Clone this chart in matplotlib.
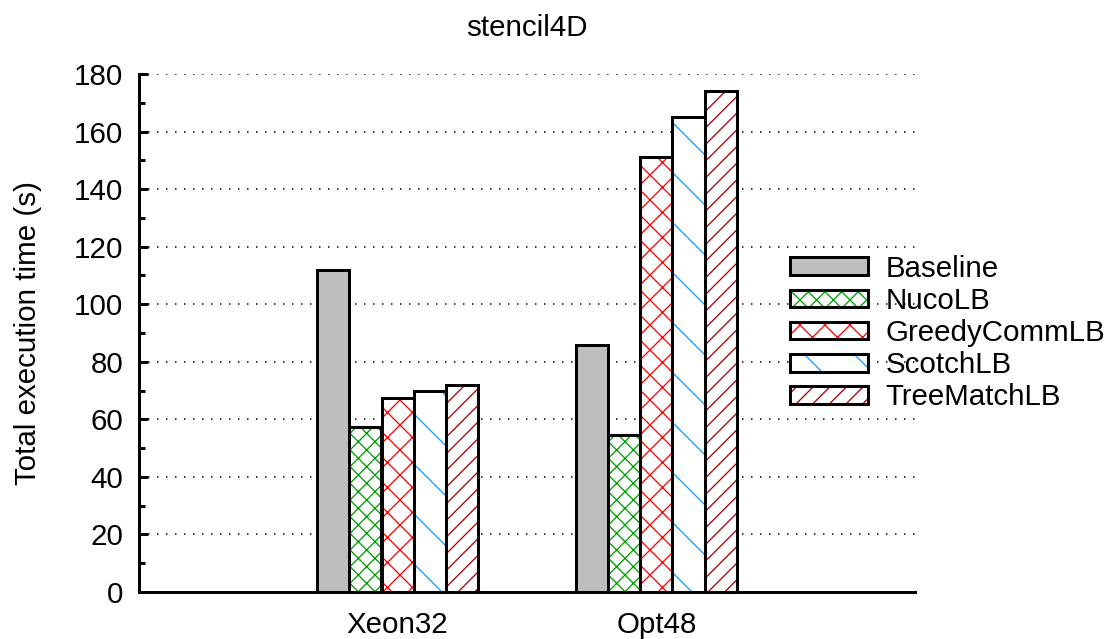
import matplotlib
matplotlib.use('Agg')
import matplotlib.pyplot as plt
from matplotlib.legend_handler import HandlerTuple
import numpy as np

# execution times (s) per machine and load balancer
machines = ['Xeon32', 'Opt48']
strategies = ['Baseline', 'NucoLB', 'GreedyCommLB', 'ScotchLB', 'TreeMatchLB']
baseline = [112.0, 86.0]
nucolb = [57.5, 54.5]
greedycommlb = [67.5, 151.0]
scotchlb = [69.8, 165.0]
treematchlb = [71.8, 174.2]
series = [baseline, nucolb, greedycommlb, scotchlb, treematchlb]

# hatch style per strategy: (face, hatch, hatch colour)
styles = [('#bebebe', '', 'black'),
          ('white', 'xxx', '#00a000'),
          ('white', 'xx', '#ff0000'),
          ('white', '\\', '#1a9bf0'),
          ('white', '///', '#b00000')]

DPI = 150
PX = 72.0 / DPI  # one pixel in points

plt.rcParams['font.family'] = ['Liberation Sans', 'DejaVu Sans']
plt.rcParams['hatch.linewidth'] = 1.3 * PX

fig = plt.figure(figsize=(1107 / DPI, 639 / DPI), dpi=DPI)
ax = fig.add_axes([139 / 1107, 47 / 639, 776 / 1107, 518 / 639])

fs = 29.5 * PX
x = np.arange(1, len(machines) + 1)
width = 0.125
handles = []
for i, (vals, (face, hatch, hcol)) in enumerate(zip(series, styles)):
    pos = x + (i - 2) * width
    # hatched fill first, then the black outline on top
    fill = ax.bar(pos, vals, width, color=face, hatch=hatch, edgecolor=hcol,
                  linewidth=0, zorder=2)
    edge = ax.bar(pos, vals, width, fill=False, edgecolor='black',
                  linewidth=3 * PX, zorder=3)
    handles.append((fill.patches[0], edge.patches[0]))

ax.set_xlim(0, 3)
ax.set_ylim(0, 180)
ax.set_xticks(x)
ax.set_xticklabels(machines, fontsize=fs)
ax.set_yticks(np.arange(0, 181, 20))
ax.set_yticks(np.arange(0, 181, 10), minor=True)
ax.tick_params(axis='y', which='major', direction='in', length=9 * PX,
               width=3 * PX, labelsize=fs, pad=16 * PX)
ax.tick_params(axis='y', which='minor', direction='in', length=6 * PX,
               width=3 * PX)
ax.tick_params(axis='x', length=0, pad=19 * PX)

for s in ['top', 'right']:
    ax.spines[s].set_visible(False)
for s in ['left', 'bottom']:
    ax.spines[s].set_linewidth(3 * PX)

ax.yaxis.grid(True, which='major', color='black', linestyle=(0, (1, 5)),
              linewidth=1.5 * PX, zorder=1)
ax.set_axisbelow(True)

ax.set_ylabel('Total execution time (s)', fontsize=fs, labelpad=32 * PX)
ax.set_title('stencil4D', fontsize=fs, pad=38 * PX)

fig.legend(handles, strategies, handler_map={tuple: HandlerTuple(ndivide=1, pad=0)},
           loc='center left', bbox_to_anchor=(790 / 1107, 1 - 333 / 639),
           frameon=False, fontsize=fs, borderpad=0, borderaxespad=0,
           handlelength=2.65, handleheight=0.55, handletextpad=0.6,
           labelspacing=0.14)

fig.savefig('out.png', dpi=DPI)
